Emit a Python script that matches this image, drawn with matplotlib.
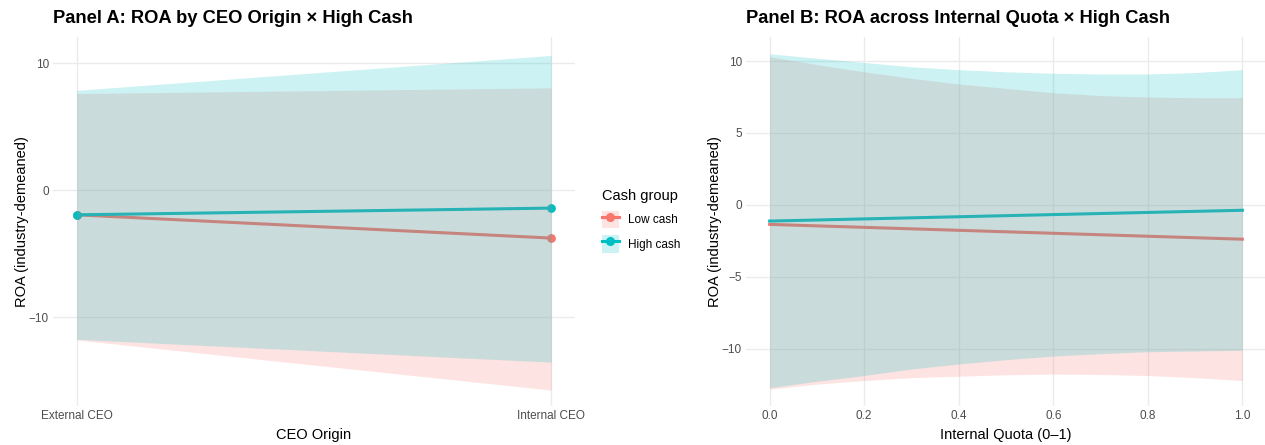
import matplotlib
matplotlib.use("Agg")
import matplotlib.pyplot as plt
from matplotlib.lines import Line2D
from matplotlib.patches import Patch

plt.rcParams['font.family'] = ['Liberation Sans', 'DejaVu Sans']

# ---- data ----
groups = ['Low cash', 'High cash']
colors = {'Low cash': '#F8766D', 'High cash': '#00BFC4'}

# Panel A: predicted ROA by CEO origin
origin_labels = ['External CEO', 'Internal CEO']
a_fit = {'Low cash': [-1.95, -3.78], 'High cash': [-1.95, -1.42]}
a_lo = {'Low cash': [-11.8, -15.75], 'High cash': [-11.75, -13.55]}
a_hi = {'Low cash': [7.6, 8.05], 'High cash': [7.85, 10.6]}

# Panel B: predicted ROA across internal quota
quota = [0.0, 0.1, 0.2, 0.3, 0.4, 0.5, 0.6, 0.7, 0.8, 0.9, 1.0]
quota_ends = [0.0, 1.0]
b_fit = {'Low cash': [-1.35, -2.38], 'High cash': [-1.12, -0.37]}
b_lo = {
    'Low cash': [-12.8, -12.45, -12.2, -12.0, -11.9, -11.8, -11.75, -11.78, -11.85, -12.0, -12.2],
    'High cash': [-12.7, -12.25, -11.85, -11.4, -11.05, -10.75, -10.5, -10.33, -10.2, -10.15, -10.1],
}
b_hi = {
    'Low cash': [10.3, 9.75, 9.25, 8.8, 8.4, 8.1, 7.8, 7.6, 7.5, 7.45, 7.45],
    'High cash': [10.5, 10.2, 9.9, 9.6, 9.4, 9.25, 9.15, 9.1, 9.1, 9.2, 9.4],
}

grid_col = '#EBEBEB'
tick_col = '#4D4D4D'

fig = plt.figure(figsize=(12.65, 4.45), dpi=100)
axA = fig.add_axes([53 / 1265, 1 - 406 / 445, 522 / 1265, 369 / 445])
axB = fig.add_axes([746 / 1265, 1 - 406 / 445, 520 / 1265, 369 / 445])


def style(ax):
    for s in ax.spines.values():
        s.set_visible(False)
    ax.grid(True, color=grid_col, linewidth=1.0)
    ax.set_axisbelow(True)
    ax.tick_params(length=0, labelsize=8.5, labelcolor=tick_col, pad=3)


# ---- Panel A ----
xa = [0, 1]
for g in groups:
    axA.plot(xa, a_fit[g], color=colors[g], lw=2.2, zorder=2)
    axA.scatter(xa, a_fit[g], color=colors[g], s=28, zorder=2)
for g in groups:
    axA.fill_between(xa, a_lo[g], a_hi[g], color=colors[g], alpha=0.2, lw=0, zorder=3)
style(axA)
axA.set_xlim(-0.05, 1.05)
axA.set_ylim(-17.0, 12.05)
axA.set_xticks(xa)
axA.set_xticklabels(origin_labels)
axA.set_yticks([-10, 0, 10])
axA.set_xlabel('CEO Origin', fontsize=10.5, labelpad=4)
axA.set_ylabel('ROA (industry-demeaned)', fontsize=10.5, labelpad=0)
axA.set_title('Panel A: ROA by CEO Origin × High Cash', fontsize=13.2,
              fontweight='bold', loc='left', pad=10)

# ---- Panel B ----
for g in groups:
    axB.plot(quota_ends, b_fit[g], color=colors[g], lw=2.2, zorder=2)
for g in groups:
    axB.fill_between(quota, b_lo[g], b_hi[g], color=colors[g], alpha=0.2, lw=0, zorder=3)
style(axB)
axB.set_xlim(-0.05, 1.05)
axB.set_ylim(-13.97, 11.67)
axB.set_xticks([0.0, 0.2, 0.4, 0.6, 0.8, 1.0])
axB.set_xticklabels(['0.0', '0.2', '0.4', '0.6', '0.8', '1.0'])
axB.set_yticks([-10, -5, 0, 5, 10])
axB.set_xlabel('Internal Quota (0–1)', fontsize=10.5, labelpad=4)
axB.set_ylabel('ROA (industry-demeaned)', fontsize=10.5, labelpad=0)
axB.set_title('Panel B: ROA across Internal Quota × High Cash', fontsize=13.2,
              fontweight='bold', loc='left', pad=10)

# ---- legend ----
handles = []
for g in groups:
    box = Patch(facecolor=colors[g], alpha=0.2, edgecolor='none')
    ln = Line2D([], [], color=colors[g], lw=2.2, marker='o', markersize=5.5)
    handles.append((box, ln))
leg = fig.legend(handles, groups, title='Cash group', loc='center left',
                 bbox_to_anchor=(591 / 1265, 1 - 221 / 445), frameon=False,
                 fontsize=8.5, title_fontsize=10.5, handlelength=1.5,
                 handleheight=1.9, handletextpad=0.7, labelspacing=0.6)
leg._legend_box.align = 'left'

fig.savefig('out.png', dpi=100)
